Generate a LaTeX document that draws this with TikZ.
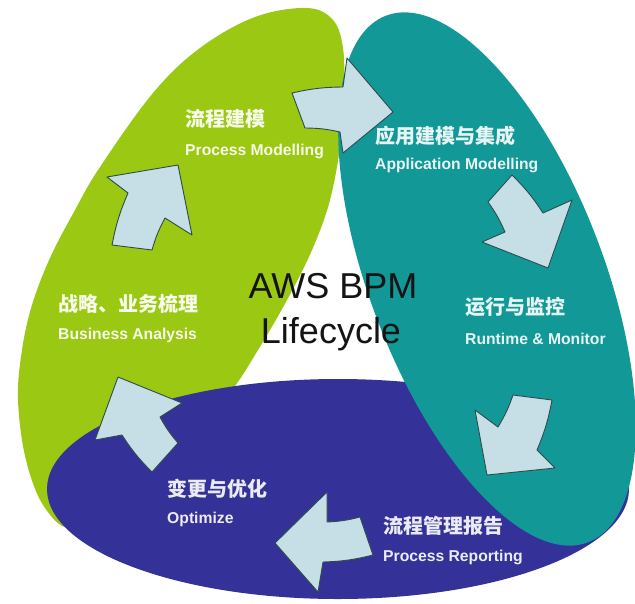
\documentclass[tikz,border=0pt]{standalone}
\usepackage{fontspec}
\setmainfont{Liberation Sans}
\newfontfamily\cjk{Noto Sans CJK SC}
\definecolor{greenc}{RGB}{155,200,18}
\definecolor{tealc}{RGB}{18,152,150}
\definecolor{bluec}{RGB}{52,50,152}
\definecolor{arrowfill}{RGB}{198,222,229}
\definecolor{arrowline}{RGB}{45,75,75}
\definecolor{titlec}{RGB}{20,20,20}
\tikzset{
  blk/.style={fill=arrowfill, draw=arrowline, line width=0.9pt, line join=round},
  cn/.style={anchor=base west, inner sep=0pt, font=\cjk\bfseries\fontsize{20}{23}\selectfont},
  en/.style={anchor=base west, inner sep=0pt, font=\bfseries\fontsize{15.7}{18}\selectfont},
  ttl/.style={anchor=base, inner sep=0pt, text=titlec, font=\fontsize{36}{40}\selectfont}
}
\begin{document}
\begin{tikzpicture}[x=1pt,y=-1pt]
\useasboundingbox (0,0) rectangle (635,603);
\fill[white] (0,0) rectangle (635,603);
% green shape
\fill[greenc] plot[smooth cycle, tension=0.6] coordinates {
  (307,8) (333,20) (343,48) (344,90) (341,140) (330,200) (312,250)
  (287,300) (258,350) (232,390) (190,440) (130,495) (75,528) (45,508)
  (26,460) (18,400) (22,350) (32,305) (50,258) (75,210) (100,167)
  (153,93) (200,48) (255,17)};
% blue ellipse
\fill[bluec] (338,489) ellipse [x radius=291, y radius=110];
% teal ellipse
\fill[tealc, rotate around={111:(487,279)}] (487,279) ellipse [x radius=282, y radius=117];
% arrows
\draw[blk] (292,93) to[bend left=6] (343,87) -- (347,58) -- (393,112) -- (343,153) -- (340,132) to[bend right=6] (305,128) -- cycle;
\draw[blk] (488,202) -- (512,175) to[bend left=6] (543,213) -- (572,200) -- (548,268) -- (482,242) -- (505,232) to[bend right=6] cycle;
\draw[blk] (513,395) -- (552,400) to[bend left=6] (537,450) -- (555,468) -- (487,475) -- (475,410) -- (498,427) to[bend right=6] cycle;
\draw[blk] (275,543) -- (327,492) -- (327,522) to[bend right=6] (360,517) -- (373,555) to[bend left=6] (323,562) -- (318,592) -- cycle;
\draw[blk] (118,377) -- (182,403) -- (160,417) to[bend right=6] (178,443) -- (152,472) to[bend left=6] (122,435) -- (95,440) -- cycle;
\draw[blk] (107,177) -- (178,165) -- (192,235) -- (165,218) to[bend right=6] (152,250) -- (112,245) to[bend left=6] (128,193) -- cycle;
% texts
\node[cn, text=white!92!greenc] (pmcn) at (185,126) {流程建模};
\node[en, text=white!92!greenc] (pmen) at (185,155) {Process Modelling};
\node[cn, text=white!90!tealc] (amcn) at (375,143) {应用建模与集成};
\node[en, text=white!90!tealc] (amen) at (375,169) {Application Modelling};
\node[cn, text=white!90!tealc] (rmcn) at (465,314) {运行与监控};
\node[en, text=white!90!tealc] (rmen) at (465,344) {Runtime \& Monitor};
\node[cn, text=white!90!bluec] (prcn) at (383,533) {流程管理报告};
\node[en, text=white!90!bluec] (pren) at (383,561) {Process Reporting};
\node[cn, text=white!90!bluec] (opcn) at (167,496) {变更与优化};
\node[en, text=white!90!bluec] (open) at (167,523) {Optimize};
\node[cn, text=white!92!greenc] (bacn) at (58,311) {战略、业务梳理};
\node[en, text=white!92!greenc] (baen) at (58,339) {Business Analysis};
\node[ttl] (t1) at (333,298) {AWS BPM};
\node[ttl] (t2) at (331,343) {Lifecycle};
\end{tikzpicture}
\end{document}
